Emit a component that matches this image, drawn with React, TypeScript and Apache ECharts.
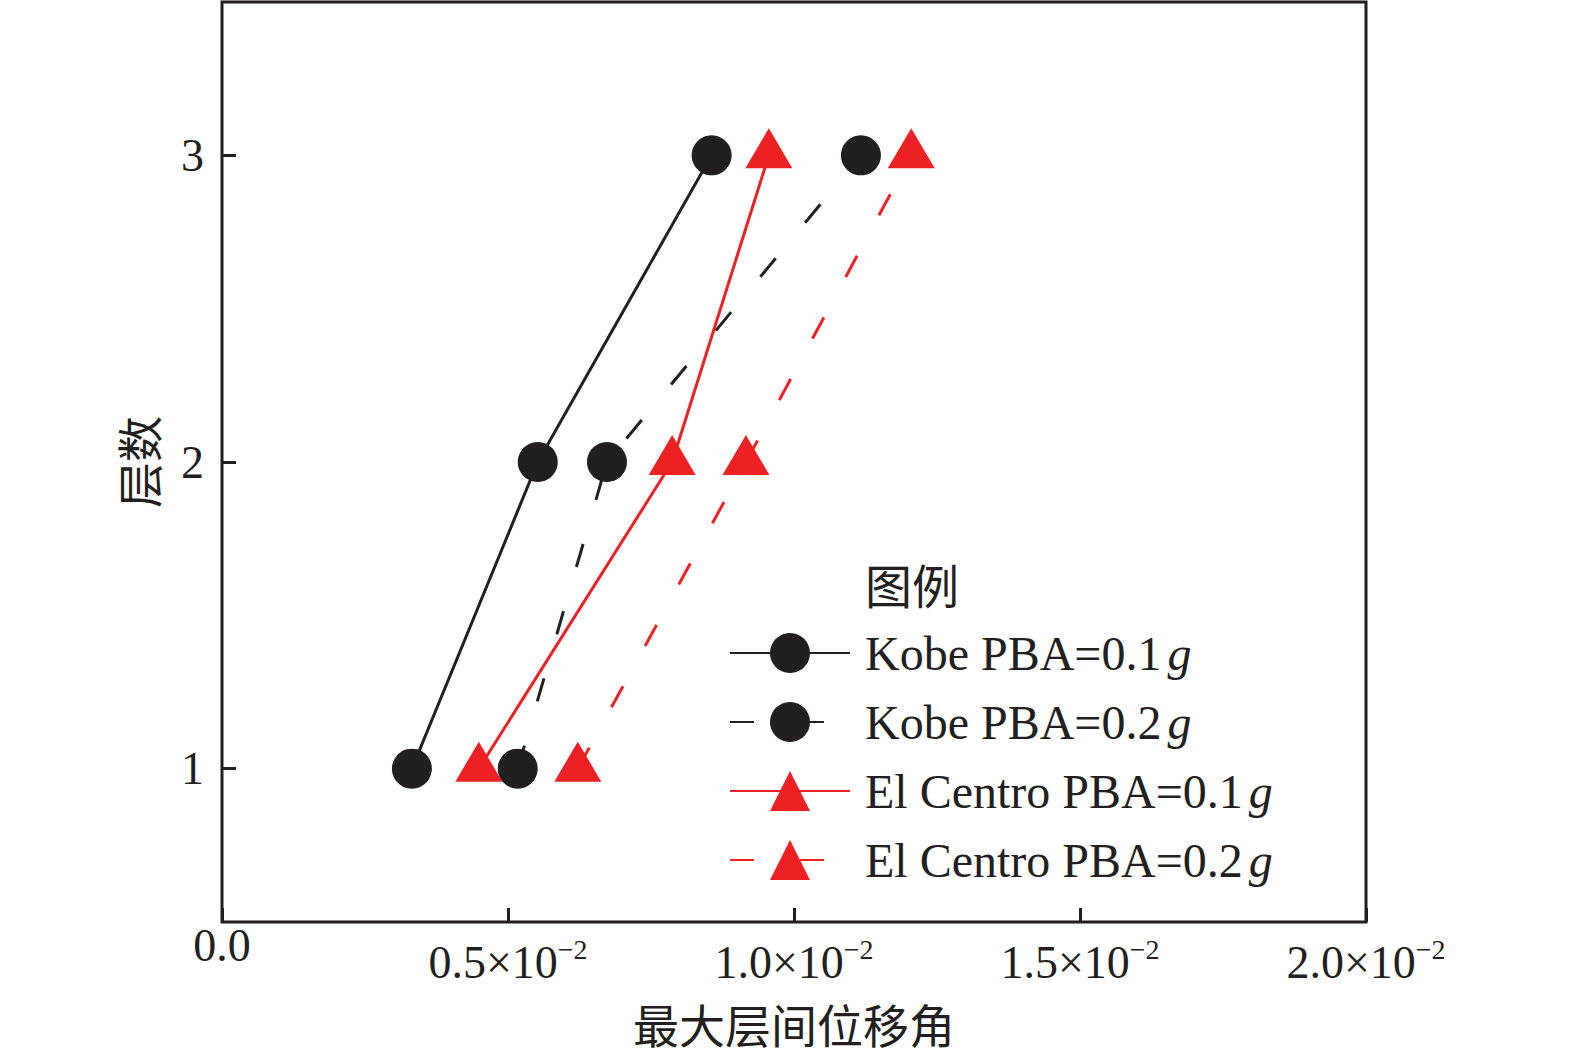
import React, { useEffect, useRef } from "react";
import * as echarts from "echarts";

const floors = [1, 2, 3];
const kobe01 = [0.332, 0.552, 0.856];
const kobe02 = [0.517, 0.673, 1.117];
const elc01 = [0.449, 0.787, 0.956];
const elc02 = [0.622, 0.916, 1.205];
const seriesNames = ["Kobe PBA=0.1", "Kobe PBA=0.2", "El Centro PBA=0.1", "El Centro PBA=0.2"];
const yTicks = [1, 2, 3];
const xTitle = "最大层间位移角";
const yTitle = "层数";
const legendTitle = "图例";

const BLACK = "#231f20";
const RED = "#ed2024";
const SERIF = "'Liberation Serif', 'Times New Roman', 'Noto Sans CJK SC', serif";
const CJK = "'Noto Sans CJK SC', 'Liberation Serif', sans-serif";

export default function App() {
  const ref = useRef<HTMLDivElement>(null);
  useEffect(() => {
    if (!ref.current) return;
    const chart = echarts.init(ref.current, null, { renderer: "svg" });
    const pairs = (xs: number[]) => xs.map((x, i) => [x, floors[i]]);
    const mk = (name: string, xs: number[], color: string, dashed: boolean, tri: boolean) => ({
      name,
      type: "line",
      data: pairs(xs),
      symbol: tri ? "triangle" : "circle",
      symbolSize: tri ? [47, 40] : 40,
      symbolOffset: tri ? [0, -7] : [0, 0],
      itemStyle: { color },
      lineStyle: { color, width: 3, type: dashed ? [24, 46] : "solid" },
      z: 2,
    });
    chart.setOption({
      animation: false,
      backgroundColor: "#ffffff",
      grid: {
        left: 222,
        right: 209,
        top: 2,
        bottom: 136,
        show: true,
        borderWidth: 3,
        borderColor: BLACK,
        backgroundColor: "transparent",
      },
      xAxis: {
        type: "value",
        min: 0,
        max: 2,
        interval: 0.5,
        name: xTitle,
        nameLocation: "middle",
        nameGap: 78,
        nameTextStyle: { fontFamily: CJK, fontSize: 46, lineHeight: 46, color: BLACK },
        axisLine: { show: false },
        axisTick: { show: true, inside: true, length: 14, lineStyle: { width: 3, color: BLACK } },
        splitLine: { show: false },
        axisLabel: {
          margin: 0,
          color: BLACK,
          fontFamily: SERIF,
          formatter: (v: number) => (v === 0 ? "{z|0.0}" : `{m|${v.toFixed(1)}×10}{s|−2}`),
          rich: {
            z: { fontFamily: SERIF, fontSize: 46, lineHeight: 46, color: BLACK },
            m: { fontFamily: SERIF, fontSize: 46, lineHeight: 63, verticalAlign: "bottom", color: BLACK },
            s: { fontFamily: SERIF, fontSize: 28, padding: [13, 0, 0, 0], verticalAlign: "top", color: BLACK },
          },
        },
      },
      yAxis: {
        type: "value",
        min: 0.5,
        max: 3.5,
        name: yTitle,
        nameLocation: "middle",
        nameGap: 62,
        nameTextStyle: { fontFamily: CJK, fontSize: 46, color: BLACK },
        axisLine: { show: false },
        axisTick: { show: true, inside: true, length: 14, customValues: yTicks, lineStyle: { width: 3, color: BLACK } },
        splitLine: { show: false },
        axisLabel: {
          customValues: yTicks,
          margin: 18,
          color: BLACK,
          fontFamily: SERIF,
          fontSize: 46,
        },
      },
      legend: {
        orient: "vertical",
        left: 724,
        top: 624,
        itemWidth: 120,
        itemHeight: 50,
        itemGap: 21,
        data: seriesNames,
        formatter: (n: string) => `{t|${n}}{sp| }{i|g}`,
        textStyle: {
          color: BLACK,
          fontFamily: SERIF,
          fontSize: 48,
          padding: [0, 0, 0, 10],
          rich: {
            t: { fontFamily: SERIF, fontSize: 48, color: BLACK },
            sp: { fontFamily: SERIF, fontSize: 24, color: BLACK },
            i: { fontFamily: SERIF, fontSize: 48, fontStyle: "italic", color: BLACK },
          },
        },
      },
      graphic: [
        {
          type: "text",
          left: 865,
          top: 560,
          style: { text: legendTitle, font: `47px ${CJK}`, fill: BLACK },
        },
      ],
      series: [
        mk(seriesNames[0], kobe01, BLACK, false, false),
        mk(seriesNames[1], kobe02, BLACK, true, false),
        mk(seriesNames[2], elc01, RED, false, true),
        mk(seriesNames[3], elc02, RED, true, true),
      ],
    });
    return () => chart.dispose();
  }, []);
  return <div ref={ref} style={{ position: "fixed", left: 0, top: 0, width: 1575, height: 1058 }} />;
}
